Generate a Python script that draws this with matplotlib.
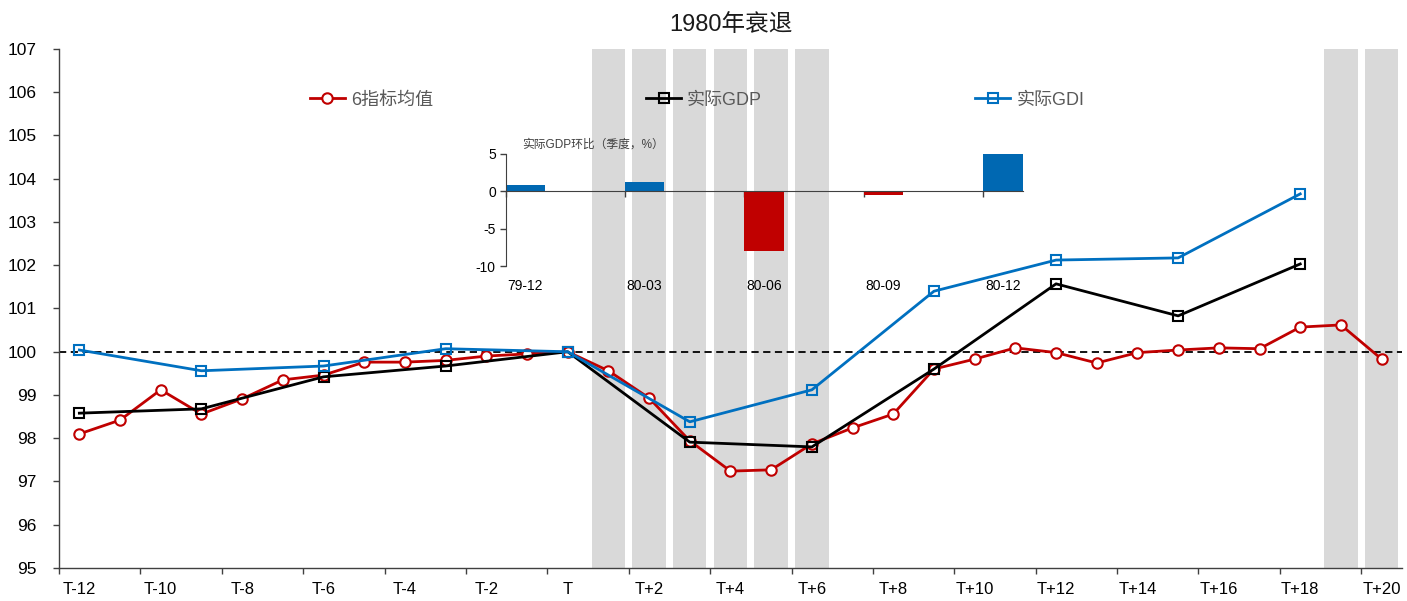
#!/usr/bin/env python3
"""1980 recession: 6-indicator average vs real GDP / GDI, with QoQ GDP inset."""

import matplotlib.pyplot as plt

plt.rcParams["font.family"] = ["Liberation Sans", "Noto Sans CJK SC"]
plt.rcParams["axes.unicode_minus"] = False

RED = "#C00000"
BLUE = "#0070C0"
BAR_BLUE = "#0068B2"
GREY_BAND = "#D9D9D9"
AXIS_GREY = "#404040"

# months relative to the peak T
MONTHS = list(range(-12, 21))
RECESSION_MONTHS = [1, 2, 3, 4, 5, 6, 19, 20]

# monthly average of the six indicators (T = 100)
AVG6 = [98.10, 98.42, 99.12, 98.56, 98.91, 99.35, 99.46, 99.76, 99.76, 99.80,
        99.90, 99.95, 100.00, 99.56, 98.93, 97.94, 97.24, 97.27, 97.87, 98.24,
        98.56, 99.60, 99.83, 100.09, 99.98, 99.74, 99.98, 100.04, 100.09,
        100.07, 100.57, 100.62, 99.83]

# quarterly series, placed at every third month
QUARTERS = list(range(-12, 19, 3))
REAL_GDP = [98.58, 98.68, 99.42, 99.67, 100.00, 97.91, 97.80, 99.60,
            101.57, 100.83, 102.03]
REAL_GDI = [100.04, 99.56, 99.67, 100.07, 100.00, 98.38, 99.12, 101.40,
            102.12, 102.17, 103.65]

# inset: real GDP QoQ (annualised, %)
QOQ_LABELS = ["79-12", "80-03", "80-06", "80-09", "80-12"]
QOQ_VALUES = [0.9, 1.3, -8.0, -0.5, 5.0]


def month_label(m: int) -> str:
    if m == 0:
        return "T"
    return f"T{m:+d}"


def draw_main(ax) -> None:
    ax.bar(RECESSION_MONTHS, [12] * len(RECESSION_MONTHS), bottom=95,
           width=0.82, color=GREY_BAND, zorder=0)
    ax.axhline(100, color="black", lw=1.3, ls=(0, (4, 2.5)), zorder=1)

    ax.plot(MONTHS, AVG6, color=RED, lw=2, marker="o", ms=7.5, mew=1.5,
            mfc="white", mec=RED, label="6指标均值", zorder=3)
    ax.plot(QUARTERS, REAL_GDP, color="black", lw=2, marker="s", ms=7,
            mew=1.5, mfc="none", mec="black", label="实际GDP", zorder=4)
    ax.plot(QUARTERS, REAL_GDI, color=BLUE, lw=2, marker="s", ms=7,
            mew=1.5, mfc="none", mec=BLUE, label="实际GDI", zorder=5)

    ax.set_xlim(-12.5, 20.5)
    ax.set_ylim(95, 107)
    ax.set_yticks(range(95, 108))

    even = [m for m in MONTHS if m % 2 == 0]
    ax.set_xticks(even)
    ax.set_xticklabels([month_label(m) for m in even])
    ax.set_xticks([m - 0.5 for m in even], minor=True)
    ax.tick_params(axis="x", which="major", length=0, pad=10, labelsize=12)
    ax.tick_params(axis="x", which="minor", length=4, width=1,
                   color=AXIS_GREY, direction="out")
    ax.tick_params(axis="y", length=4, width=1, color=AXIS_GREY,
                   direction="out", labelsize=12.5, pad=12)

    for side in ("top", "right"):
        ax.spines[side].set_visible(False)
    for side in ("left", "bottom"):
        ax.spines[side].set_color(AXIS_GREY)
        ax.spines[side].set_linewidth(1)

    leg = ax.legend(loc="center", bbox_to_anchor=(697 / 1407, 1 - 100 / 601),
                    bbox_transform=ax.figure.transFigure, ncol=3,
                    frameon=False, fontsize=13, handlelength=1.95,
                    handletextpad=0.33, columnspacing=11.8)
    for txt in leg.get_texts():
        txt.set_color("#595959")

    ax.set_title("1980年衰退", fontsize=17, color="#1a1a1a", pad=13)


def draw_inset(fig) -> None:
    ax = fig.add_axes([0.3593, 0.5574, 0.3675, 0.1864])
    ax.set_facecolor("none")

    pos = list(range(len(QOQ_VALUES)))
    colors = [BAR_BLUE if v >= 0 else RED for v in QOQ_VALUES]
    ax.bar(pos, QOQ_VALUES, width=0.33, align="edge", color=colors, zorder=2)

    ax.set_xlim(0, len(QOQ_VALUES) - 1 + 0.33)
    ax.set_ylim(-10, 5)
    ax.set_yticks([-10, -5, 0, 5])
    ax.tick_params(axis="y", length=4, width=1, color=AXIS_GREY,
                   direction="out", labelsize=10, pad=3)

    # zero line carries the category boundary ticks
    ax.spines["bottom"].set_position(("data", 0))
    ax.spines["bottom"].set_color(AXIS_GREY)
    ax.spines["bottom"].set_zorder(3)
    ax.set_xticks(pos)
    ax.set_xticklabels([])
    ax.tick_params(axis="x", length=4, width=1, color=AXIS_GREY,
                   direction="out")

    labels = ax.secondary_xaxis(0)
    labels.set_xticks([p + 0.165 for p in pos])
    labels.set_xticklabels(QOQ_LABELS)
    labels.tick_params(length=0, pad=9, labelsize=10)
    labels.spines["bottom"].set_visible(False)

    ax.spines["left"].set_color(AXIS_GREY)
    for side in ("top", "right"):
        ax.spines[side].set_visible(False)

    ax.text(0.033, 1.08, "实际GDP环比（季度，%）", transform=ax.transAxes,
            fontsize=8.5, color="#404040", ha="left", va="center")


def main() -> None:
    fig = plt.figure(figsize=(14.07, 6.01), dpi=100)
    ax = fig.add_axes([0.04193, 0.05491, 0.9545, 0.86356])
    draw_main(ax)
    draw_inset(fig)
    fig.savefig("out.png", dpi=100)
    plt.close(fig)


if __name__ == "__main__":
    main()
